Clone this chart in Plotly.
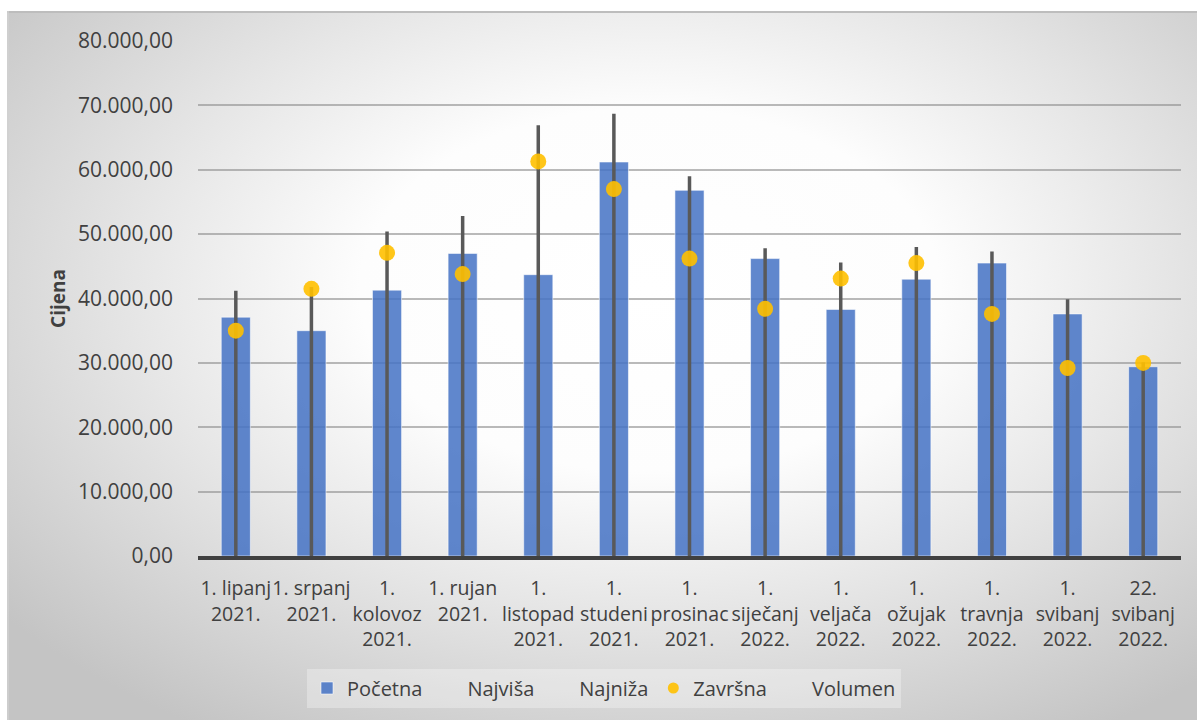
import plotly.graph_objects as go

# Podaci (očitano s grafa)
datumi = ["1. lipanj<br>2021.", "1. srpanj<br>2021.", "1.<br>kolovoz<br>2021.",
          "1. rujan<br>2021.", "1.<br>listopad<br>2021.", "1.<br>studeni<br>2021.",
          "1.<br>prosinac<br>2021.", "1.<br>siječanj<br>2022.", "1.<br>veljača<br>2022.",
          "1.<br>ožujak<br>2022.", "1.<br>travnja<br>2022.", "1.<br>svibanj<br>2022.",
          "22.<br>svibanj<br>2022."]
pocetna = [37100, 35000, 41300, 47000, 43700, 61200, 56800, 46200, 38300, 43000, 45500, 37600, 29400]
najvisa = [41200, 41800, 50400, 52800, 66900, 68700, 59000, 47800, 45600, 48000, 47300, 39900, 30100]
najniza = [0, 0, 0, 0, 0, 0, 0, 0, 0, 0, 0, 0, 0]
zavrsna = [35000, 41500, 47100, 43800, 61300, 57000, 46200, 38400, 43100, 45500, 37600, 29200, 30000]

W, H = 1197, 720
FONT = "Open Sans"
TXT = "#404040"

fig = go.Figure()

# Pozadina s radijalnim gradijentom (os u pikselima)
fig.add_trace(go.Scatter(
    x=[-180, 1480, 1480, -180, -180], y=[-230, -230, 810, 810, -230],
    xaxis="x", yaxis="y", mode="lines", line=dict(width=0), fill="toself",
    fillgradient=dict(type="radial", colorscale=[[0, "#ffffff"], [0.35, "#fdfdfd"], [0.62, "#e6e6e6"],
                                                 [0.82, "#d4d4d4"], [1, "#c4c4c4"]]),
    hoverinfo="skip", showlegend=False))

# Početna - stupci
fig.add_trace(go.Bar(x=datumi, y=pocetna, name="Početna", xaxis="x2", yaxis="y2",
                     width=0.385, marker=dict(color="rgba(68,114,196,0.85)",
                                              line=dict(color="rgba(255,255,255,0.55)", width=1))))

# Linije najviša - najniža
lx, ly = [], []
for d, lo, hi in zip(datumi, najniza, najvisa):
    lx += [d, d, None]
    ly += [lo, hi, None]
fig.add_trace(go.Scatter(x=lx, y=ly, mode="lines", xaxis="x2", yaxis="y2",
                         line=dict(color="#595959", width=3.5), showlegend=False, hoverinfo="skip"))

# Legenda bez simbola
nevidljivo = dict(x=[None], y=[None], mode="markers", xaxis="x2", yaxis="y2",
                  marker=dict(color="rgba(0,0,0,0)", size=1))
fig.add_trace(go.Scatter(name="Najviša", **nevidljivo))
fig.add_trace(go.Scatter(name="Najniža", **nevidljivo))

# Završna - točke
fig.add_trace(go.Scatter(x=datumi, y=zavrsna, mode="markers", xaxis="x2", yaxis="y2",
                         marker=dict(color="#FFC000", size=16, opacity=0.9), showlegend=False))
fig.add_trace(go.Scatter(x=[None], y=[None], mode="markers", name="Završna", xaxis="x2", yaxis="y2",
                         marker=dict(color="#FFC000", size=11, opacity=0.9)))
fig.add_trace(go.Scatter(name="Volumen", **nevidljivo))

fig.update_layout(
    width=W, height=H, margin=dict(l=0, r=0, t=0, b=0, autoexpand=False),
    paper_bgcolor="white", plot_bgcolor="rgba(0,0,0,0)",
    separators=",.", font=dict(family=FONT, color=TXT),
    xaxis=dict(domain=[0, 1], range=[0, W], visible=False, fixedrange=True, automargin=False),
    yaxis=dict(domain=[0, 1], range=[H, 0], visible=False, fixedrange=True, automargin=False),
    xaxis2=dict(domain=[198 / W, 1181 / W], anchor="y2", type="category", automargin=False,
                range=[-0.5, len(datumi) - 0.5], showgrid=False, tickangle=0,
                showline=True, linecolor="#404040", linewidth=4,
                tickfont=dict(size=19.5, color=TXT), ticks="", ticklabelstandoff=12),
    yaxis2=dict(domain=[1 - 556 / H, 1 - 41 / H], anchor="x2", range=[0, 80000], automargin=False,
                dtick=10000, tickformat=",.2f", showgrid=True,
                gridcolor="rgba(140,140,140,0.6)", gridwidth=2, zeroline=False,
                tickfont=dict(size=21, color=TXT), ticklabelstandoff=24,
                title=dict(text="<b>Cijena</b>", font=dict(size=19, color=TXT), standoff=7)),
    legend=dict(orientation="h", x=604 / W, xanchor="center", y=1 - 688 / H, yanchor="middle",
                bgcolor="rgba(255,255,255,0.3)", font=dict(size=20, color=TXT),
                traceorder="normal"),
    shapes=[
        dict(type="rect", xref="x", yref="y", x0=0, x1=W, y0=0, y1=11, fillcolor="white",
             line=dict(width=0), layer="above"),
        dict(type="rect", xref="x", yref="y", x0=0, x1=7, y0=0, y1=H, fillcolor="white",
             line=dict(width=0), layer="above"),
        dict(type="line", xref="x", yref="y", x0=7, x1=W, y0=12, y1=12,
             line=dict(color="#bdbdbd", width=2), layer="above"),
        dict(type="line", xref="x", yref="y", x0=8, x1=8, y0=11, y1=H,
             line=dict(color="#d0d0d0", width=1.5), layer="above"),
    ],
)

fig.write_html("out.html", config={"displayModeBar": False},
               post_script="document.body.style.margin='0';")
